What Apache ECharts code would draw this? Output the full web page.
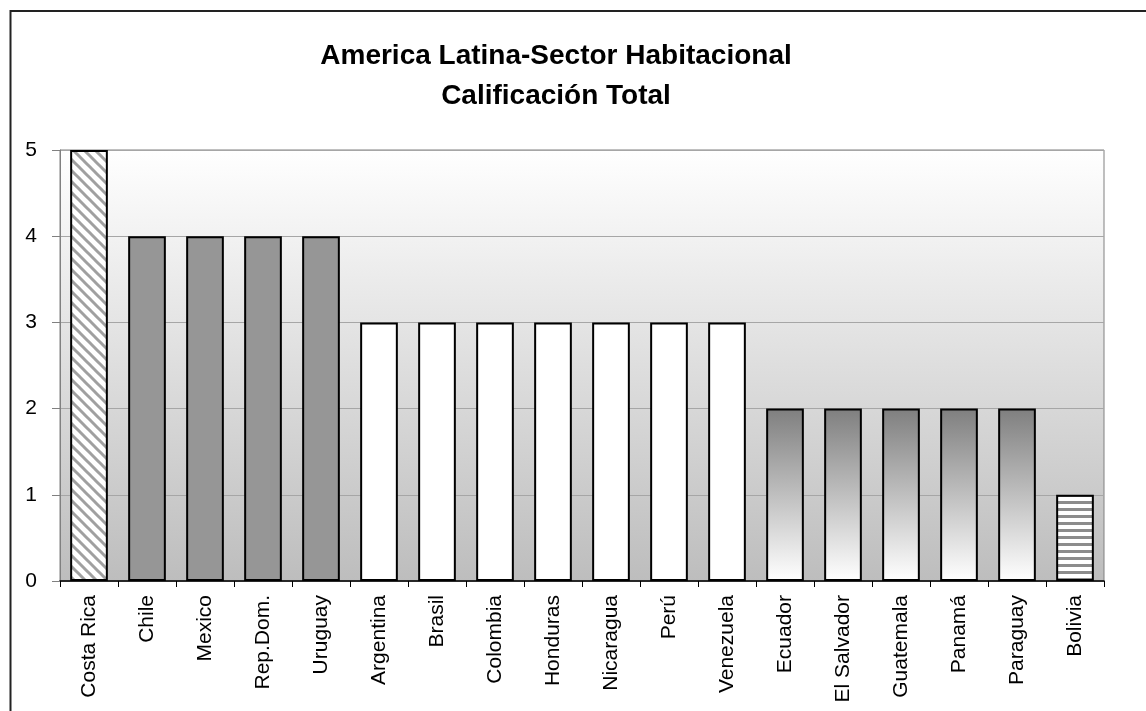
<!DOCTYPE html>
<html>
<head>
<meta charset="utf-8">
<script src="https://cdn.jsdelivr.net/npm/echarts@6/dist/echarts.min.js"></script>
<style>
html,body{margin:0;padding:0;background:#fff;}
#chart{width:1146px;height:711px;}
</style>
</head>
<body>
<div id="chart"></div>
<script>
const titleLines = ['America Latina-Sector Habitacional', 'Calificación Total'];
const categories = ['Costa Rica','Chile','Mexico','Rep.Dom.','Uruguay','Argentina','Brasil','Colombia','Honduras','Nicaragua','Perú','Venezuela','Ecuador','El Salvador','Guatemala','Panamá','Paraguay','Bolivia'];
const scores = [5,4,4,4,4,3,3,3,3,3,3,3,2,2,2,2,2,1];
const yTicks = [0,1,2,3,4,5];

function makeHatch() {
  const n = 11;
  const c = document.createElement('canvas');
  c.width = n; c.height = n;
  const g = c.getContext('2d');
  g.fillStyle = '#ffffff'; g.fillRect(0,0,n,n);
  g.strokeStyle = '#a0a0a0'; g.lineWidth = 3;
  for (let k = -2; k <= 2; k++) {
    g.beginPath(); g.moveTo(k*n - 2, -2); g.lineTo(k*n + n + 2, n + 2); g.stroke();
  }
  return c;
}
function makeStripes() {
  const c = document.createElement('canvas');
  c.width = 8; c.height = 7;
  const g = c.getContext('2d');
  g.fillStyle = '#ffffff'; g.fillRect(0,0,8,7);
  g.fillStyle = '#8c8c8c'; g.fillRect(0,4,8,3);
  return c;
}
const fillByScore = {
  5: {image: makeHatch(), repeat: 'repeat'},
  4: '#969696',
  3: '#ffffff',
  2: {type:'linear', x:0, y:0, x2:0, y2:1, colorStops:[{offset:0,color:'#7f7f7f'},{offset:1,color:'#ffffff'}]},
  1: {image: makeStripes(), repeat: 'repeat'}
};

const chart = echarts.init(document.getElementById('chart'), null, {renderer:'canvas'});
chart.setOption({
  animation: false,
  backgroundColor: '#ffffff',
  title: {
    text: titleLines.join('\n'),
    left: 551, top: 31, textAlign: 'center',
    textStyle: {fontFamily:'Liberation Sans, Arial, sans-serif', fontWeight:'bold', fontSize:28, lineHeight:40, color:'#000'}
  },
  graphic: [{
    type:'rect', shape:{x:10.5, y:11, width:1200, height:800},
    style:{fill:'none', stroke:'#222', lineWidth:2}, silent:true, z:-1
  }],
  grid: {
    left: 60, right: 42, top: 150, bottom: 130, show: true,
    backgroundColor: {type:'linear', x:0, y:0, x2:0, y2:1, colorStops:[{offset:0,color:'#ffffff'},{offset:1,color:'#bdbdbd'}]},
    borderColor:'#808080', borderWidth:1
  },
  xAxis: {
    type:'category', data: categories,
    axisLine:{lineStyle:{color:'#000', width:1.5}},
    axisTick:{show:true, length:6, lineStyle:{color:'#000'}},
    axisLabel:{rotate:90, margin:14, fontFamily:'Liberation Sans, Arial, sans-serif', fontSize:21, color:'#000'}
  },
  yAxis: {
    type:'value', min: yTicks[0], max: yTicks[yTicks.length-1], interval: 1,
    axisLine:{show:true, lineStyle:{color:'#808080'}},
    axisTick:{show:true, length:8, lineStyle:{color:'#808080'}},
    splitLine:{lineStyle:{color:'#a6a6a6'}},
    axisLabel:{margin:23, fontFamily:'Liberation Sans, Arial, sans-serif', fontSize:21, color:'#000'}
  },
  series: [{
    type:'bar', barWidth:'65%',
    data: scores.map(v => ({value:v, itemStyle:{color: fillByScore[v]}})),
    itemStyle:{borderColor:'#000', borderWidth:2}
  }]
});
</script>
</body>
</html>
